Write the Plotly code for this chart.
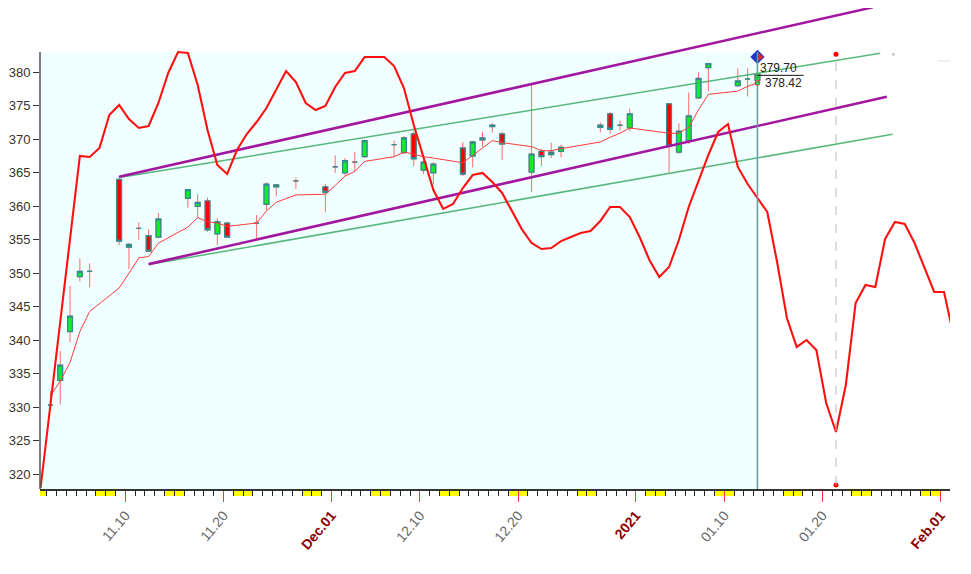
import plotly.graph_objects as go
import pandas as pd

# ---------------- data ----------------
candle_dates = ['2020-11-02', '2020-11-03', '2020-11-04', '2020-11-05', '2020-11-06',
                '2020-11-09', '2020-11-10', '2020-11-11', '2020-11-12', '2020-11-13',
                '2020-11-16', '2020-11-17', '2020-11-18', '2020-11-19', '2020-11-20',
                '2020-11-23', '2020-11-24', '2020-11-25', '2020-11-27',
                '2020-11-30', '2020-12-01', '2020-12-02', '2020-12-03', '2020-12-04',
                '2020-12-07', '2020-12-08', '2020-12-09', '2020-12-10', '2020-12-11',
                '2020-12-14', '2020-12-15', '2020-12-16', '2020-12-17', '2020-12-18',
                '2020-12-21', '2020-12-22', '2020-12-23', '2020-12-24',
                '2020-12-28', '2020-12-29', '2020-12-30', '2020-12-31',
                '2021-01-04', '2021-01-05', '2021-01-06', '2021-01-07', '2021-01-08',
                '2021-01-11', '2021-01-12', '2021-01-13']
opens = [330.3, 334.0, 341.3, 349.5, 350.3,
         364.0, 353.9, 356.7, 355.6, 355.4,
         361.2, 360.0, 360.8, 355.9, 357.5,
         357.5, 360.3, 363.2, 363.8,
         362.9, 365.9, 365.0, 366.6, 367.4,
         369.2, 368.0, 370.8, 365.4, 365.0,
         368.7, 367.5, 369.9, 371.9, 370.8,
         365.1, 368.2, 368.1, 368.2,
         371.8, 373.8, 372.1, 371.7,
         375.3, 368.1, 369.8, 376.2, 380.7,
         378.0, 379.0, 378.8]
highs = [332.4, 338.4, 348.1, 352.2, 351.5,
         364.5, 354.5, 357.6, 356.6, 359.0,
         362.5, 361.8, 361.3, 358.2, 357.7,
         358.7, 363.6, 363.3, 364.3,
         363.3, 367.6, 367.2, 368.1, 370.0,
         369.8, 370.5, 371.2, 367.0, 366.6,
         369.6, 369.8, 371.1, 372.4, 371.1,
         378.2, 368.6, 369.5, 369.2,
         372.5, 374.1, 372.8, 374.6,
         375.4, 372.4, 377.0, 380.0, 381.4,
         380.6, 380.6, 379.8]
lows = [330.1, 330.4, 339.7, 348.8, 347.9,
        354.2, 350.6, 355.0, 353.2, 355.2,
        359.8, 358.2, 356.2, 354.2, 355.3,
        355.2, 359.4, 361.5, 362.6,
        359.1, 365.0, 364.6, 365.2, 367.2,
        367.4, 367.8, 366.0, 364.8, 363.3,
        364.5, 365.8, 368.9, 371.0, 366.9,
        362.1, 366.0, 367.2, 367.3,
        371.0, 370.8, 371.3, 371.2,
        365.0, 367.8, 369.3, 376.0, 377.2,
        377.8, 376.4, 378.5]
closes = [330.3, 336.3, 343.6, 350.3, 350.3,
          354.8, 354.3, 356.7, 353.3, 358.1,
          362.5, 360.6, 356.5, 357.7, 355.4,
          357.5, 363.3, 362.9, 363.8,
          362.1, 365.9, 366.8, 366.6, 369.8,
          369.2, 370.2, 367.1, 366.6, 366.3,
          364.8, 369.6, 370.2, 372.1, 369.3,
          367.8, 367.4, 367.7, 368.8,
          372.1, 371.5, 372.1, 373.8,
          369.0, 371.2, 373.5, 379.1, 381.3,
          378.7, 379.0, 379.7]
moving_avg = [331.7, 333.9, 336.7, 341.3, 344.3,
              347.8, 350.0, 352.3, 352.5, 354.5,
              356.9, 358.3, 357.7, 357.5, 357.0,
              357.5, 359.3, 360.6, 361.7,
              361.8, 363.1, 364.5, 365.2, 366.7,
              367.4, 368.1, 367.8, 367.4, 367.2,
              366.5, 367.6, 368.7, 369.8, 369.5,
              368.9, 368.3, 368.3, 368.6,
              369.6, 370.3, 370.9, 371.7,
              370.9, 370.9, 371.8, 374.4, 376.7,
              377.2, 377.9, 378.42]

# oscillator curve, one value per calendar day starting 2020-11-01
osc_start = '2020-11-01'
oscillator = [317.96, 330.34, 342.73, 354.97, 367.51, 367.36, 368.70, 373.63, 375.12, 373.03,
              371.69, 371.99, 375.42, 379.90, 383.03, 382.88, 378.12, 371.39, 366.16, 364.81,
              368.40, 370.79, 372.58, 374.67, 377.36, 380.19, 378.55, 375.42, 374.37, 374.97,
              377.81, 379.90, 380.19, 382.28, 382.28, 382.28, 380.94, 377.66, 372.13, 367.21,
              362.43, 359.60, 360.34, 362.73, 364.67, 364.97, 363.63, 361.99, 359.30, 356.60,
              354.52, 353.62, 353.77, 354.81, 355.41, 356.01, 356.31, 357.81, 359.90, 359.90,
              358.40, 355.41, 351.99, 349.45, 350.94, 354.97, 359.90, 363.93, 367.66, 371.09,
              372.28, 365.87, 363.33, 361.24, 359.15, 351.69, 343.33, 339.00, 340.04, 338.55,
              330.64, 326.31, 333.33, 345.57, 348.25, 347.96, 355.12, 357.66, 357.36, 354.52,
              350.79, 347.21, 347.21, 340.50]

# channel lines (start / end)
purple_upper_x = ['2020-11-09 09:00', '2021-01-25 03:00']
purple_upper_y = [364.42, 389.70]
green_upper_x = ['2020-11-09 09:00', '2021-01-25 21:00']
green_upper_y = [364.30, 382.84]
purple_lower_x = ['2020-11-12 09:00', '2021-01-26 13:00']
purple_lower_y = [351.37, 376.36]
green_lower_x = ['2020-11-12 09:00', '2021-01-27 03:00']
green_lower_y = [351.30, 370.75]

cursor_date = '2021-01-21 09:00'
cursor_top, cursor_bottom = 382.7, 318.4
marker_value = 382.3

tick_dates = ['2020-11-10', '2020-11-20', '2020-12-01', '2020-12-10', '2020-12-20',
              '2021-01-01', '2021-01-10', '2021-01-20', '2021-02-01']
tick_labels = ['11.10', '11.20', 'Dec.01', '12.10', '12.20', '2021', '01.10', '01.20', 'Feb.01']
month_labels = {'Dec.01', '2021', 'Feb.01'}
y_ticks = [320, 325, 330, 335, 340, 345, 350, 355, 360, 365, 370, 375, 380]

# ---------------- layout constants ----------------
# page body has an 8px margin, so the figure starts at (8, 8)
FIG_W, FIG_H = 963, 566
PLOT_H = 481
X_RANGE = ['2020-11-01 07:35', '2021-02-01 23:35']
Y_RANGE = [317.8, 389.6]
Y_PANEL_TOP = 383.03
BAR_OFFSET = pd.Timedelta(hours=9)

cx = pd.to_datetime(candle_dates) + BAR_OFFSET
osc_x = pd.date_range(osc_start, periods=len(oscillator), freq='D') + BAR_OFFSET
last_x = cx[-1]

fig = go.Figure()

# wicks (red thin)
fig.add_trace(go.Candlestick(
    x=cx, open=opens, high=highs, low=lows, close=closes,
    increasing=dict(line=dict(color='#ff6b6b', width=1), fillcolor='rgba(0,0,0,0)'),
    decreasing=dict(line=dict(color='#ff6b6b', width=1), fillcolor='rgba(0,0,0,0)'),
    hoverinfo='skip', showlegend=False))

# moving average
fig.add_trace(go.Scatter(x=cx, y=moving_avg, mode='lines',
                         line=dict(color='#ff3b3b', width=1), showlegend=False, hoverinfo='skip'))

# bodies with teal outline
body_hi = [max(o, c) for o, c in zip(opens, closes)]
body_lo = [min(o, c) for o, c in zip(opens, closes)]
fig.add_trace(go.Candlestick(
    x=cx, open=opens, high=body_hi, low=body_lo, close=closes,
    increasing=dict(line=dict(color='#2f8f8f', width=1.3), fillcolor='#11ee22'),
    decreasing=dict(line=dict(color='#2f8f8f', width=1.3), fillcolor='#ff0000'),
    hoverinfo='skip', showlegend=False))

# channel lines
for xs, ys, col, w in [(green_upper_x, green_upper_y, 'rgba(60,170,100,0.85)', 1.5),
                       (green_lower_x, green_lower_y, 'rgba(60,170,100,0.85)', 1.5),
                       (purple_upper_x, purple_upper_y, '#a3169f', 2.6),
                       (purple_lower_x, purple_lower_y, '#a3169f', 2.6)]:
    fig.add_trace(go.Scatter(x=pd.to_datetime(xs), y=ys, mode='lines',
                             line=dict(color=col, width=w), showlegend=False, hoverinfo='skip'))

# oscillator
fig.add_trace(go.Scatter(x=osc_x, y=oscillator, mode='lines',
                         line=dict(color='#ff1010', width=2.1), showlegend=False, hoverinfo='skip'))

# cursor dots
fig.add_trace(go.Scatter(x=pd.to_datetime([cursor_date, cursor_date]), y=[cursor_top, cursor_bottom],
                         mode='markers', marker=dict(color='#ff0000', size=5),
                         showlegend=False, hoverinfo='skip', cliponaxis=False))
# split diamond marker
fig.add_trace(go.Scatter(x=[last_x], y=[marker_value], mode='markers',
                         marker=dict(symbol='diamond', color='#2233cc', size=11),
                         showlegend=False, hoverinfo='skip'))
fig.add_trace(go.Scatter(x=[last_x + pd.Timedelta(hours=6)], y=[marker_value], mode='markers',
                         marker=dict(symbol='triangle-right', color='#ee2222', size=7),
                         showlegend=False, hoverinfo='skip'))
# MA end marker
fig.add_trace(go.Scatter(x=[last_x], y=[moving_avg[-1]], mode='markers',
                         marker=dict(symbol='circle', color='#22cc22', size=5,
                                     line=dict(color='#ff3333', width=1)),
                         showlegend=False, hoverinfo='skip'))
# small grey marks at top right
fig.add_trace(go.Scatter(x=pd.to_datetime(['2021-01-27 05:00']), y=[382.7], mode='markers',
                         marker=dict(color='#c8c8c8', size=3), showlegend=False, hoverinfo='skip'))
fig.add_trace(go.Scatter(x=pd.to_datetime(['2021-01-31 17:00', '2021-02-01 23:00']), y=[381.7, 381.7],
                         mode='lines', line=dict(color='#dddddd', width=1),
                         showlegend=False, hoverinfo='skip'))

shapes = []
# light cyan panel
shapes.append(dict(type='rect', xref='x', yref='y', x0=X_RANGE[0], x1=last_x,
                   y0=Y_RANGE[0], y1=Y_PANEL_TOP, fillcolor='#f0ffff', line=dict(width=0),
                   layer='below'))
# vertical teal line at last bar
shapes.append(dict(type='line', xref='x', yref='y', x0=last_x, x1=last_x,
                   y0=Y_RANGE[0], y1=Y_PANEL_TOP, line=dict(color='#5f9ea0', width=1.5)))
# left axis line
shapes.append(dict(type='line', xref='paper', yref='y', x0=0, x1=0,
                   y0=Y_RANGE[0], y1=Y_PANEL_TOP, line=dict(color='#555555', width=1.5)))
# dashed cursor line
shapes.append(dict(type='line', xref='x', yref='y', x0=cursor_date, x1=cursor_date,
                   y0=cursor_bottom, y1=cursor_top, line=dict(color='#bbbbbb', width=1, dash='dash')))
# underline of price label
shapes.append(dict(type='line', xref='x', yref='y', x0=last_x, x1=last_x + pd.Timedelta(hours=113),
                   y0=379.55, y1=379.55, line=dict(color='#111111', width=1)))
# weekend markers under the axis
for sat in pd.date_range('2020-10-31', '2021-01-30', freq='W-SAT'):
    shapes.append(dict(type='rect', xref='x', yref='paper', x0=sat, x1=sat + pd.Timedelta(days=2),
                       y0=-7 / PLOT_H, y1=-1 / PLOT_H, fillcolor='#ffff00',
                       line=dict(width=0), layer='below'))

annotations = [
    dict(x=last_x, y=380.6, xref='x', yref='y', text='379.70', showarrow=False,
         xanchor='left', yanchor='middle', xshift=1, font=dict(size=12, color='#222222')),
    dict(x=last_x, y=378.36, xref='x', yref='y', text='378.42', showarrow=False,
         xanchor='left', yanchor='middle', xshift=6, font=dict(size=12, color='#222222')),
]

ticktext = []
for t in tick_labels:
    if t in month_labels:
        ticktext.append('<span style="color:#8b0000"><b>%s</b></span>' % t)
    else:
        ticktext.append(t)

fig.update_layout(
    width=FIG_W, height=FIG_H,
    margin=dict(l=32, r=21, t=0, b=FIG_H - PLOT_H),
    paper_bgcolor='white', plot_bgcolor='white',
    font=dict(family='Liberation Sans, Arial, sans-serif'),
    shapes=shapes, annotations=annotations, showlegend=False,
    xaxis=dict(type='date', range=X_RANGE, rangeslider=dict(visible=False),
               showgrid=False, zeroline=False,
               showline=True, linecolor='#333333', linewidth=1.5,
               tickmode='array', tickvals=tick_dates, ticktext=ticktext,
               ticks='outside', ticklen=11, tickcolor='#ff3333', tickwidth=1,
               tickangle=-50, tickfont=dict(size=14, color='#666666'),
               minor=dict(tickmode='linear', tick0='2020-11-01', dtick=86400000,
                          ticks='outside', ticklen=5, tickcolor='#222222', showgrid=False)),
    yaxis=dict(range=Y_RANGE, showgrid=False, zeroline=False, showline=False,
               tickmode='array', tickvals=y_ticks,
               ticks='outside', ticklen=6, tickcolor='#333333',
               tickfont=dict(size=13, color='#333333')),
)

fig.write_html('out.html')
